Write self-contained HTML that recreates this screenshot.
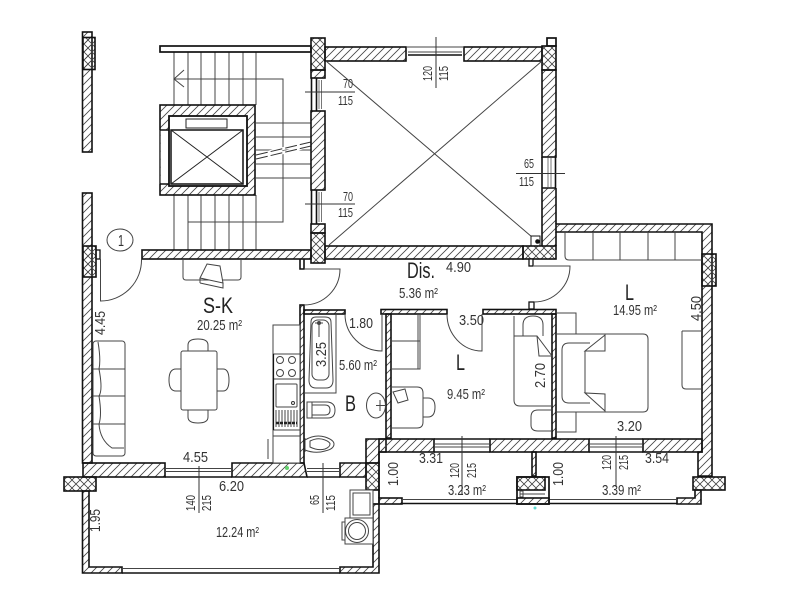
<!DOCTYPE html>
<html><head><meta charset="utf-8"><style>
html,body{margin:0;padding:0;background:#fff}
svg{display:block;filter:blur(.3px)}
text{font-family:"Liberation Sans",sans-serif;fill:#333;font-size:14.5px}
.s{font-size:12.5px}.b{font-size:22px;fill:#222}
.w{fill:url(#h);stroke:#111;stroke-width:1.6}
.n{fill:url(#h);stroke:none}
.c{fill:url(#x);stroke:#111;stroke-width:1.6}
.l{fill:none;stroke:#444;stroke-width:1}
.g{fill:none;stroke:#777;stroke-width:1}
.m{fill:none;stroke:#111;stroke-width:1.6}
.f{fill:#fff;stroke:#444;stroke-width:1}
</style></head><body>
<svg width="800" height="600" viewBox="0 0 800 600" xmlns="http://www.w3.org/2000/svg">
<defs>
<pattern id="h" width="8" height="8" patternUnits="userSpaceOnUse"><path d="M-1 9L9 -1M-1 1L1 -1M7 9L9 7" stroke="#444" stroke-width=".8" fill="none"/></pattern>
<pattern id="x" width="8" height="8" patternUnits="userSpaceOnUse"><path d="M0 0L8 8M8 0L0 8" stroke="#444" stroke-width=".8" fill="none"/></pattern>
</defs>
<rect width="800" height="600" fill="#fff"/>

<!-- stairs -->
<path class="l" d="M174 52V105M188 52V105M201 52V105M215 52V105M229 52V105M243 52V105M256 52V105M174 195V250M188 195V250M201 195V250M215 195V250M229 195V250M243 195V250M256 195V250M256 123H311M256 137H311M256 150H311M256 164H311M256 178H311M184 70L174 79L184 87M174 79H283V222H188"/>
<path d="M256 155L311 142M256 159L311 146" stroke="#fff" stroke-width="3" fill="none"/>
<path d="M256 155L311 142M256 159L311 146" stroke="#333" stroke-width="1" stroke-dasharray="12 3" fill="none"/>
<rect x="160" y="46" width="151" height="6" fill="#fff" stroke="#111" stroke-width="1.7"/>

<!-- elevator -->
<rect class="w" x="160" y="105" width="95" height="90"/>
<rect x="160.8" y="130" width="9" height="54" fill="#fff"/>
<path class="l" d="M160 130V184"/>
<path class="m" d="M160 130H169M160 184H169"/>
<rect x="169" y="116" width="78" height="70" fill="#fff" stroke="#111" stroke-width="1.8"/>
<rect x="171" y="130" width="72" height="54" fill="#fff" stroke="#111" stroke-width="1.5"/>
<path d="M171 130L243 184M243 130L171 184" stroke="#222" stroke-width="1" fill="none"/>
<rect x="186" y="119" width="41" height="9" fill="#fff" stroke="#222" stroke-width="1"/>

<!-- left upper wall -->
<rect class="w" x="82.500" y="32" width="9.500" height="120"/>
<rect class="c" x="83" y="37.500" width="12" height="32"/>
<!-- left lower wall -->
<rect class="w" x="82.500" y="193" width="9.500" height="270"/>
<rect x="96" y="250" width="4" height="9" fill="#fff" stroke="#111" stroke-width="1.300"/>
<rect class="c" x="83" y="246" width="13" height="31"/>
<!-- vertical stair wall -->
<rect class="w" x="311" y="70" width="14" height="8"/>
<rect class="w" x="311" y="111" width="14" height="79"/>
<rect class="w" x="311" y="224" width="14" height="9"/>
<path class="m" d="M311.500 78V111M311.500 190V224M316.500 78V111M316.500 190V224"/>
<path class="g" d="M319 80V109M321.500 80V109M319 192V222M321.500 192V222"/>
<rect class="c" x="311" y="38" width="14" height="32"/>
<rect class="c" x="311" y="233" width="14" height="30"/>
<!-- top wall -->
<rect class="w" x="325" y="47" width="81" height="14"/>
<rect class="w" x="464" y="47" width="78" height="14"/>
<path class="l" d="M406 47H464M408 52H462"/>
<path class="m" d="M408 55H462"/>
<rect x="547" y="38" width="9" height="8" fill="#fff" stroke="#111" stroke-width="1.700"/>
<rect class="c" x="542" y="46" width="14" height="24"/>
<!-- right wall of void -->
<rect class="w" x="542" y="70" width="14" height="87"/>
<path class="n" d="M542 188H556V224L556 246H542Z"/>
<path class="m" d="M542 188V246M556 188V224M542 188H556M542 157V188M555.500 155V189"/>
<path class="g" d="M548 158V187M551 158V187"/>
<!-- void X -->
<path class="l" d="M326 61L532 237M542 61L329 245"/>
<rect x="531" y="236" width="9" height="10" fill="#fff" stroke="#111" stroke-width="1"/>
<circle cx="537.500" cy="241.500" r="2.300" fill="#111"/>
<!-- S-K top wall + hall wall -->
<rect class="w" x="142" y="250" width="169" height="9"/>
<path class="m" d="M300 259V269H304V259"/>
<rect class="w" x="325" y="246" width="198" height="13"/>
<rect class="c" x="523" y="246" width="33" height="13"/>
<rect x="529" y="259" width="4" height="7" fill="#fff" stroke="#111" stroke-width="1.300"/>

<!-- right room -->
<path class="w" d="M556 224H712V476H698V452H702V232H556Z"/>
<rect class="c" x="702" y="254" width="14" height="32"/>
<path class="m" d="M556 232V246"/>

<!-- partition walls -->
<rect class="w" x="300" y="305" width="4" height="158"/>
<rect class="w" x="304" y="310" width="41" height="4"/>
<rect class="w" x="381" y="309.500" width="66" height="4.500"/>
<rect class="w" x="483" y="309.500" width="73" height="4.500"/>
<rect class="w" x="386" y="314" width="5" height="124"/>
<rect class="w" x="552" y="314" width="4" height="124"/>
<rect x="529" y="302" width="5" height="7" fill="#fff" stroke="#111" stroke-width="1.300"/>

<!-- S-K bottom wall -->
<rect class="w" x="83" y="463" width="82" height="14"/>
<path class="w" d="M232 463H304L307 477H232Z"/>
<path class="w" d="M340 463H366V477H340Z"/>
<path class="w" d="M366 439H386V452H379V463H366Z"/>
<path class="l" d="M165 468.500H232M165 471.500H232M307 468.500H340M307 471.500H340"/>
<path class="m" d="M165 477H232M307 477H340"/>
<rect class="c" x="64" y="477" width="32" height="14"/>
<rect class="c" x="366" y="463" width="13" height="27"/>
<!-- balcony -->
<path class="w" d="M82.500 491H89V567H122V573H82.500Z"/>
<path class="w" d="M373 504H379V573H340V567H373Z"/>
<path class="m" d="M122 573H340"/>
<path class="l" d="M122 568.500H340"/>
<path class="m" d="M379 490V504H373M366 490V492"/>
<rect class="f" x="350" y="490" width="23" height="28"/>
<rect class="f" x="353" y="493" width="17" height="22"/>
<rect class="f" x="345" y="518" width="28" height="26"/>
<rect class="f" x="342" y="522" width="3" height="18"/>
<circle cx="357" cy="531" r="11.500" fill="none" stroke="#444"/>
<circle cx="357" cy="531" r="8.500" fill="none" stroke="#444"/>

<!-- balcony right walls -->
<rect class="w" x="379" y="439" width="55" height="13"/>
<rect class="w" x="490" y="439" width="99" height="13"/>
<rect class="w" x="643" y="439" width="59" height="13"/>
<path class="m" d="M434 439H490M589 439H643"/>
<path class="l" d="M434 444H490M434 447H490M589 444H643M589 447H643"/>
<path class="m" d="M379 452V498M434 452H490M589 452H643"/>
<rect class="w" x="532" y="452" width="4" height="24"/>
<rect class="w" x="379" y="498" width="23" height="6"/>
<path class="w" d="M677 498H695V490H701V504H677Z"/>
<path class="l" d="M402 499.500H517M549 499.500H677"/>
<path class="m" d="M402 503.500H517M549 503.500H677"/>
<rect x="517" y="477" width="32" height="27" fill="#fff" stroke="#111" stroke-width="1.700"/>
<rect class="c" x="517" y="477" width="28" height="13"/>
<rect class="l" x="520" y="491" width="3" height="6"/>
<path class="l" d="M520 494H545"/>
<rect class="w" x="517" y="498" width="32" height="6"/>
<rect class="c" x="693" y="477" width="32" height="13"/>

<!-- doors -->
<path class="l" d="M100.500 259V301A41 41 0 0 0 141.500 259"/>
<path class="l" d="M304 269H340A36 36 0 0 1 304 305"/>
<path class="l" d="M534 266H570A36 36 0 0 1 534 302"/>
<path class="l" d="M382 314V351A37 37 0 0 1 345 314"/>
<path class="l" d="M482 314V351A35 37 0 0 1 447 314"/>
<ellipse cx="120" cy="240" rx="13" ry="11" fill="none" stroke="#444"/>

<!-- S-K furniture -->
<path class="l" d="M183 259V277Q183 280 186 280H238Q241 280 241 277V259"/>
<path class="f" d="M207 264L220 266L223 283L200 278Z"/>
<path class="l" d="M200 283L223 288L223 283M200 278V283"/>
<rect class="f" x="93" y="341" width="32" height="115" rx="3"/>
<path class="l" d="M93 369H125M93 396H125M93 424H125M98 342Q101 360 99 369Q103 390 99 396Q102 415 99 424Q100 440 112 448H124"/>
<path class="f" d="M188 351V345Q188 339 198 339Q208 339 208 345V351ZM188 410V417Q188 423 198 423Q208 423 208 417V410ZM181 369H176Q169 369 169 380Q169 391 176 391H181ZM217 369H223Q229 369 229 380Q229 391 223 391H217Z"/>
<rect class="f" x="181" y="351" width="36" height="59" rx="2"/>
<path class="l" d="M268 439V459"/>
<rect class="f" x="273" y="325" width="27" height="138"/>
<path class="l" d="M273 354H300M273 379H300M273 430H300M273 436H300"/>
<path class="m" d="M273.500 354V430" style="stroke-width:1.200"/>
<circle cx="280" cy="360" r="3.500" fill="none" stroke="#444"/><circle cx="292" cy="360" r="3.500" fill="none" stroke="#444"/>
<circle cx="280" cy="373" r="3.500" fill="none" stroke="#444"/><circle cx="292" cy="373" r="3.500" fill="none" stroke="#444"/>
<rect class="l" x="276" y="384" width="21" height="23" rx="1"/>
<path d="M276 410V427M279 410V427M282 410V427M285 410V427M288 410V427M291 410V427M294 410V427M297 410V427" stroke="#444" stroke-width="1"/>
<path d="M276 423H297" stroke="#222" stroke-width="2.500" stroke-dasharray="3 1"/>
<circle cx="293" cy="403" r="1.500" fill="none" stroke="#333"/>

<!-- bathroom -->
<path class="l" d="M304 393H336V314"/>
<path class="l" d="M311 322Q311 317 316 317H325Q331 317 331 322L333 380Q333 388 326 388H316Q309 388 309 380Z"/>
<rect class="l" x="312" y="320" width="17" height="60" rx="6"/>
<circle cx="319" cy="323" r="2" fill="#444"/>
<path class="l" d="M319 323V337M315 323H323"/>
<path class="l" d="M307 402H328Q335 403 335 410Q335 418 328 418H307ZM312 402V418M312 405H325Q330 405 330 410Q330 415 325 415H312"/>
<path class="l" d="M305 438V452M305 440Q315 434 325 437Q334 440 334 444Q334 449 325 451Q315 454 305 450M310 441Q318 437 325 440Q330 442 330 444Q330 447 325 449Q318 451 310 447Z"/>
<ellipse cx="376" cy="405.500" rx="9.500" ry="12.500" class="l"/>
<path class="l" d="M380 400V411M376 405.500H385"/>

<!-- middle room furniture -->
<path class="l" d="M391 341H420V369H391M420 314V369M418 314V369"/>
<path class="l" d="M391 387H417Q423 387 423 393V422Q423 428 417 428H391"/>
<path class="l" d="M423 398H428Q435 398 435 407Q435 417 428 417H423"/>
<path class="f" d="M393 392L405 389L408 400L398 403Z"/>
<path class="l" d="M514 316V400Q514 406 520 406H552M514 336H537L552 356H539L537 336M523 336V325Q523 316 533 316Q543 316 543 325V336"/>
<path class="l" d="M552 410H538Q531 410 531 417V425Q531 431 538 431H552"/>

<!-- big room furniture -->
<path class="l" d="M565 232V256Q565 260 569 260H702M593 232V260M620 232V260M648 232V260M675 232V260"/>
<path class="l" d="M682 331H702M682 331Q682 331 682 334V385Q682 389 686 389H702"/>
<path class="l" d="M556 313H576V334M556 432H576V412"/>
<path class="l" d="M556 334H643Q648 334 648 339V407Q648 412 643 412H556"/>
<path class="l" d="M590 343H569Q562 343 562 350V396Q562 403 569 403H590"/>
<path class="f" d="M585 351L605 335V351ZM585 393L605 411V394Z"/>
<path class="l" d="M585 351V393"/>

<!-- dimension leader lines -->
<path d="M436 37V88M305 92H355M305 204H355M516 173.500H565M199 466V513M323 463V513M462 436V495M616 436V487" stroke="#333" stroke-width="1" fill="none"/>
<circle cx="287" cy="468" r="2" fill="#63d36d"/>
<circle cx="535" cy="508" r="1.500" fill="#5fd8d0"/>

<!-- labels -->
<text x="118" y="246" textLength="6" lengthAdjust="spacingAndGlyphs" style="font-size:16px">1</text>
<text class="b" x="203" y="313" textLength="30" lengthAdjust="spacingAndGlyphs">S-K</text>
<text x="197" y="330" textLength="45" lengthAdjust="spacingAndGlyphs">20.25 m²</text>
<text x="339" y="370" textLength="38" lengthAdjust="spacingAndGlyphs">5.60 m²</text>
<text class="b" x="345" y="411" textLength="11" lengthAdjust="spacingAndGlyphs">B</text>
<text x="349" y="328" textLength="24" lengthAdjust="spacingAndGlyphs">1.80</text>
<text transform="translate(326,367) rotate(-90)" textLength="25" lengthAdjust="spacingAndGlyphs">3.25</text>
<text transform="translate(105,335) rotate(-90)" textLength="24" lengthAdjust="spacingAndGlyphs">4.45</text>
<text x="183" y="462" textLength="25" lengthAdjust="spacingAndGlyphs">4.55</text>
<text x="219" y="491" textLength="25" lengthAdjust="spacingAndGlyphs">6.20</text>
<text class="s" transform="translate(195,511) rotate(-90)" textLength="16" lengthAdjust="spacingAndGlyphs">140</text>
<text class="s" transform="translate(211,511) rotate(-90)" textLength="16" lengthAdjust="spacingAndGlyphs">215</text>
<text class="s" transform="translate(319,505) rotate(-90)" textLength="10" lengthAdjust="spacingAndGlyphs">65</text>
<text class="s" transform="translate(335,511) rotate(-90)" textLength="16" lengthAdjust="spacingAndGlyphs">115</text>
<text transform="translate(100,532) rotate(-90)" textLength="23" lengthAdjust="spacingAndGlyphs">1.95</text>
<text x="216" y="537" textLength="43" lengthAdjust="spacingAndGlyphs">12.24 m²</text>
<text transform="translate(398,486) rotate(-90)" textLength="24" lengthAdjust="spacingAndGlyphs">1.00</text>
<text transform="translate(563,486) rotate(-90)" textLength="24" lengthAdjust="spacingAndGlyphs">1.00</text>
<text x="419" y="463" textLength="24" lengthAdjust="spacingAndGlyphs">3.31</text>
<text class="s" transform="translate(459,478) rotate(-90)" textLength="15" lengthAdjust="spacingAndGlyphs">120</text>
<text class="s" transform="translate(476,478) rotate(-90)" textLength="15" lengthAdjust="spacingAndGlyphs">215</text>
<text x="448" y="495" textLength="38" lengthAdjust="spacingAndGlyphs">3.23 m²</text>
<text class="s" transform="translate(611,470) rotate(-90)" textLength="15" lengthAdjust="spacingAndGlyphs">120</text>
<text class="s" transform="translate(628,470) rotate(-90)" textLength="15" lengthAdjust="spacingAndGlyphs">215</text>
<text x="602" y="495" textLength="39" lengthAdjust="spacingAndGlyphs">3.39 m²</text>
<text x="645" y="463" textLength="24" lengthAdjust="spacingAndGlyphs">3.54</text>
<text x="617" y="431" textLength="25" lengthAdjust="spacingAndGlyphs">3.20</text>
<text transform="translate(701,321) rotate(-90)" textLength="25" lengthAdjust="spacingAndGlyphs">4.50</text>
<text x="613" y="315" textLength="44" lengthAdjust="spacingAndGlyphs">14.95 m²</text>
<text class="b" x="625" y="300" textLength="9" lengthAdjust="spacingAndGlyphs">L</text>
<text class="b" x="456" y="370" textLength="9" lengthAdjust="spacingAndGlyphs">L</text>
<text x="447" y="399" textLength="38" lengthAdjust="spacingAndGlyphs">9.45 m²</text>
<text transform="translate(545,388) rotate(-90)" textLength="25" lengthAdjust="spacingAndGlyphs">2.70</text>
<text x="459" y="325" textLength="25" lengthAdjust="spacingAndGlyphs">3.50</text>
<text class="b" x="407" y="278" textLength="28" lengthAdjust="spacingAndGlyphs">Dis.</text>
<text x="446" y="272" textLength="25" lengthAdjust="spacingAndGlyphs">4.90</text>
<text x="399" y="298" textLength="39" lengthAdjust="spacingAndGlyphs">5.36 m²</text>
<text class="s" transform="translate(432,81) rotate(-90)" textLength="15" lengthAdjust="spacingAndGlyphs">120</text>
<text class="s" transform="translate(448,81) rotate(-90)" textLength="15" lengthAdjust="spacingAndGlyphs">115</text>
<text class="s" x="343" y="88" textLength="10" lengthAdjust="spacingAndGlyphs">70</text>
<text class="s" x="338" y="105" textLength="15" lengthAdjust="spacingAndGlyphs">115</text>
<text class="s" x="343" y="201" textLength="10" lengthAdjust="spacingAndGlyphs">70</text>
<text class="s" x="338" y="217" textLength="15" lengthAdjust="spacingAndGlyphs">115</text>
<text class="s" x="524" y="168" textLength="10" lengthAdjust="spacingAndGlyphs">65</text>
<text class="s" x="519" y="186" textLength="15" lengthAdjust="spacingAndGlyphs">115</text>
</svg>
</body></html>
